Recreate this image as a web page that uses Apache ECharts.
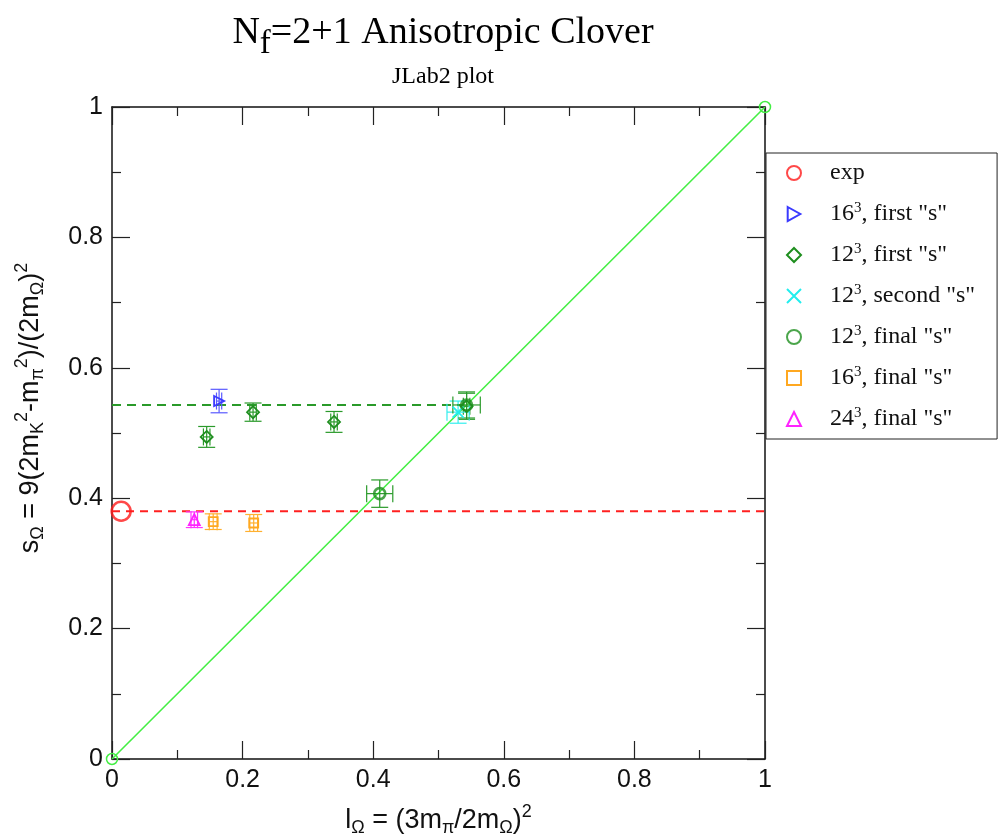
<!DOCTYPE html>
<html>
<head>
<meta charset="utf-8">
<script src="https://cdn.jsdelivr.net/npm/echarts@6/dist/echarts.min.js"></script>
<style>
  html, body { margin: 0; padding: 0; background: #fff; }
  #main { width: 1000px; height: 839px; }
</style>
</head>
<body>
<div id="main"></div>
<script>
// each point: [x, y, xerr, yerr]
const expPoint = [[0.014, 0.380]];
const first16 = [[0.164, 0.549, 0.004, 0.018]];
const first12 = [[0.145, 0.494, 0.005, 0.016], [0.216, 0.532, 0.005, 0.014], [0.340, 0.517, 0.005, 0.016], [0.543, 0.541, 0.005, 0.020]];
const second12 = [[0.530, 0.532, 0.017, 0.017]];
const final12 = [[0.410, 0.407, 0.020, 0.021], [0.543, 0.543, 0.021, 0.020]];
const final16 = [[0.155, 0.364, 0.006, 0.012], [0.217, 0.362, 0.006, 0.013]];
const final24 = [[0.126, 0.367, 0.005, 0.012]];

const expLine = [[0, 0.380], [1, 0.380]];
const finalLine = [[0, 0.543], [0.54, 0.543]];
const diagonal = [[0, 0], [1, 1]];

const axisTicks = [0, 0.2, 0.4, 0.6, 0.8, 1];

const sans = 'Liberation Sans';
const serif = 'Liberation Serif';

function errorSeries(data, color) {
    return {
        type: 'custom',
        z: 2,
        silent: true,
        data: data,
        encode: { x: 0, y: 1 },
        renderItem: function (params, api) {
            const x = api.value(0), y = api.value(1);
            const dx = api.value(2), dy = api.value(3);
            const top = api.coord([x, y + dy]);
            const bot = api.coord([x, y - dy]);
            const lft = api.coord([x - dx, y]);
            const rgt = api.coord([x + dx, y]);
            const cap = 8.5;
            const st = { stroke: color, lineWidth: 1.2 };
            const seg = (x1, y1, x2, y2) => ({ type: 'line', shape: { x1, y1, x2, y2 }, style: st });
            return {
                type: 'group',
                children: [
                    seg(top[0], top[1], bot[0], bot[1]),
                    seg(top[0] - cap, top[1], top[0] + cap, top[1]),
                    seg(bot[0] - cap, bot[1], bot[0] + cap, bot[1]),
                    seg(lft[0], lft[1], rgt[0], rgt[1]),
                    seg(lft[0], lft[1] - cap, lft[0], lft[1] + cap),
                    seg(rgt[0], rgt[1] - cap, rgt[0], rgt[1] + cap)
                ]
            };
        }
    };
}

function markers(name, data, color, symbol, size, extra) {
    return Object.assign({
        name: name,
        type: 'scatter',
        z: 3,
        data: data,
        symbol: symbol,
        symbolSize: size,
        itemStyle: { color: 'rgba(255,255,255,0)', borderColor: color, borderWidth: 1.8, opacity: 1 }
    }, extra || {});
}

const xSymbol = 'path://M0,0L10,10M10,0L0,10';
const rightTriangle = 'path://M0,0L9,5L0,10Z';

const legendNames = {
    'exp': '{t|exp}',
    'a16first': '{t|16}{sup|3}{t|, first "s"}',
    'a12first': '{t|12}{sup|3}{t|, first "s"}',
    'a12second': '{t|12}{sup|3}{t|, second "s"}',
    'a12final': '{t|12}{sup|3}{t|, final "s"}',
    'a16final': '{t|16}{sup|3}{t|, final "s"}',
    'a24final': '{t|24}{sup|3}{t|, final "s"}'
};

function baseAxis(pos, showLabel) {
    return {
        type: 'value',
        position: pos,
        min: 0,
        max: 1,
        interval: 0.2,
        axisLine: { show: true, onZero: false, lineStyle: { color: '#111', width: 1.5 } },
        axisTick: { show: true, inside: true, length: 18, lineStyle: { color: '#222', width: 1.2 } },
        minorTick: { show: true, splitNumber: 2, length: 9, lineStyle: { color: '#222', width: 1.2 } },
        splitLine: { show: false },
        axisLabel: { show: showLabel, fontFamily: sans, fontSize: 25, color: '#111', margin: 9,
            formatter: v => (axisTicks.indexOf(v) >= 0 ? String(v) : '') }
    };
}

const subS = { fontFamily: sans, fontSize: 18, color: '#111', padding: [15, 0, 0, 0] };
const supS = { fontFamily: sans, fontSize: 18, color: '#111', padding: [0, 0, 17, 0] };
const mainS = { fontFamily: sans, fontSize: 27, color: '#111' };

const xAxes = [
    Object.assign(baseAxis('bottom', true), {
        name: '{m|l}{sub|Ω}{m| = (3m}{sub|π}{m|/2m}{sub|Ω}{m|)}{sup|2}',
        nameLocation: 'middle',
        nameGap: 44,
        nameTextStyle: { rich: { m: mainS, sub: subS, sup: supS } }
    }),
    baseAxis('top', false)
];
const yAxes = [
    Object.assign(baseAxis('left', true), {
        name: '{m|s}{sub|Ω}{m| = 9(2m}{sub|K}{sup|2}{m|-m}{sub|π}{sup|2}{m|)/(2m}{sub|Ω}{m|)}{sup|2}',
        nameLocation: 'middle',
        nameRotate: 90,
        nameGap: 64,
        nameTextStyle: { padding: [0, 0, 0, 50], rich: { m: mainS, sub: subS, sup: supS } }
    }),
    baseAxis('right', false)
];

const option = {
    backgroundColor: '#fff',
    animation: false,
    title: [
        {
            text: '{a|N}{b|f}{a|=2+1 Anisotropic Clover}',
            left: 438,
            top: 1,
            textAlign: 'center',
            textStyle: {
                rich: {
                    a: { fontFamily: serif, fontSize: 38, fontWeight: 'normal', color: '#000' },
                    b: { fontFamily: serif, fontSize: 33, fontWeight: 'normal', color: '#000', padding: [22, 0, 0, 0] }
                }
            }
        },
        {
            text: 'JLab2 plot',
            left: 438,
            top: 60,
            textAlign: 'center',
            textStyle: { fontFamily: serif, fontSize: 24, fontWeight: 'normal', color: '#000' }
        }
    ],
    grid: { left: 112, right: 235, top: 107, bottom: 80, outerBoundsMode: 'none' },
    xAxis: xAxes,
    yAxis: yAxes,
    legend: {
        orient: 'vertical',
        left: 766,
        top: 153,
        padding: [8, 22, 8, 20],
        itemGap: 16,
        itemWidth: 14,
        itemHeight: 14,
        backgroundColor: '#fff',
        borderColor: '#222',
        borderWidth: 1,
        borderRadius: 0,
        data: ['exp', 'a16first', 'a12first', 'a12second', 'a12final', 'a16final', 'a24final'],
        formatter: n => legendNames[n],
        textStyle: {
            fontFamily: serif,
            fontSize: 24,
            color: '#111',
            padding: [0, 0, 0, 24],
            rich: {
                t: { fontFamily: serif, fontSize: 24, lineHeight: 26, color: '#111' },
                sup: { fontFamily: serif, fontSize: 15, color: '#111', padding: [0, 0, 11, 0] }
            }
        }
    },
    series: [
        {
            type: 'line', data: diagonal, z: 1, silent: true,
            symbol: 'circle', symbolSize: 11, showSymbol: true,
            lineStyle: { color: '#44ee44', width: 1.6 },
            itemStyle: { color: 'rgba(255,255,255,0)', borderColor: '#44ee44', borderWidth: 1.5 }
        },
        {
            type: 'line', data: expLine, z: 1, silent: true, symbol: 'none',
            lineStyle: { color: '#ff2020', width: 1.8, type: [8, 6] }
        },
        {
            type: 'line', data: finalLine, z: 1, silent: true, symbol: 'none',
            lineStyle: { color: '#2a9a2a', width: 2, type: [9, 6] }
        },
        errorSeries(first16, '#5a5aff'),
        errorSeries(first12, '#2a9a2a'),
        errorSeries(second12, '#33eeee'),
        errorSeries(final12, '#2a9a2a'),
        errorSeries(final16, '#ffb030'),
        errorSeries(final24, '#ff33ff'),
        markers('exp', expPoint, '#ff1a1a', 'circle', 19, { itemStyle: { color: 'rgba(255,255,255,0)', borderColor: '#ff1a1a', borderWidth: 2.5 } }),
        markers('a16first', first16, '#3a3aff', rightTriangle, 10),
        markers('a12first', first12, '#1e8e1e', 'diamond', 12),
        markers('a12second', second12, '#22eeee', xSymbol, 11),
        markers('a12final', final12, '#1e8e1e', 'circle', 11, { itemStyle: { color: 'rgba(255,255,255,0)', borderColor: '#1e8e1e', borderWidth: 2.6 } }),
        markers('a16final', final16, '#ffa820', 'rect', 9),
        markers('a24final', final24, '#ff22ff', 'triangle', 11)
    ]
};

const myChart = echarts.init(document.getElementById('main'));
myChart.setOption(option);

window.onresize = function () {
    myChart.resize();
};
</script>
</body>
</html>
